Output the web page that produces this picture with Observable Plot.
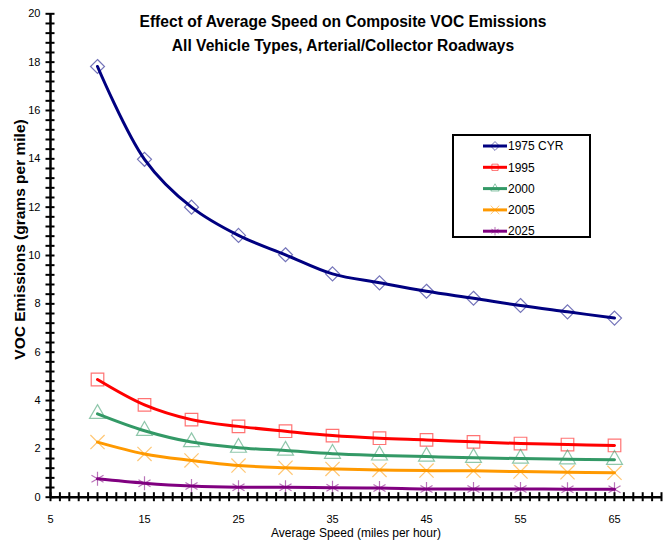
<!DOCTYPE html>
<html><head><meta charset="utf-8">
<script src="https://cdn.jsdelivr.net/npm/d3@7"></script>
<script src="https://cdn.jsdelivr.net/npm/@observablehq/plot@0.6"></script>
<style>body{margin:0;background:#fff;} #chart{width:668px;height:544px;}</style>
</head><body><div id="chart"></div>
<script>
const speeds = [10, 15, 20, 25, 30, 35, 40, 45, 50, 55, 60, 65];
const seriesNames = ["1975 CYR", "1995", "2000", "2005", "2025"];
const v1975 = [17.82, 13.98, 12.0, 10.83, 10.03, 9.24, 8.87, 8.52, 8.23, 7.93, 7.67, 7.41];
const v1995 = [4.87, 3.82, 3.21, 2.93, 2.73, 2.55, 2.44, 2.37, 2.29, 2.22, 2.18, 2.14];
const v2000 = [3.45, 2.75, 2.28, 2.05, 1.93, 1.80, 1.73, 1.68, 1.63, 1.60, 1.57, 1.55];
const v2005 = [2.28, 1.79, 1.52, 1.31, 1.22, 1.17, 1.13, 1.10, 1.09, 1.06, 1.03, 1.01];
const v2025 = [0.76, 0.58, 0.46, 0.41, 0.41, 0.39, 0.38, 0.34, 0.34, 0.34, 0.33, 0.33];
const colors = ["#000080", "#ff0000", "#339966", "#ff9900", "#800080"];
const symbols = ["diamond2", "square2", "triangle2", "times", "asterisk"];
const symbolR = [6.3, 8.0, 7.6, 6.5, 6.6];
const yTickLabels = [0, 2, 4, 6, 8, 10, 12, 14, 16, 18, 20];
const xTickLabels = [5, 15, 25, 35, 45, 55, 65];
const titleLines = ["Effect of Average Speed on Composite VOC Emissions", "All Vehicle Types, Arterial/Collector Roadways"];
const xTitle = "Average Speed (miles per hour)";
const yTitle = "VOC Emissions (grams per mile)";

const valueLists = [v1975, v1995, v2000, v2005, v2025];
const data = seriesNames.flatMap((s, i) => speeds.map((sp, j) => ({series: s, speed: sp, value: valueLists[i][j]})));
const yMinor = d3.range(0, 20.001, 0.4);
const xMinor = d3.range(5, 70.001, 1);
const FONT = "'Liberation Sans', Arial, sans-serif";

const plot = Plot.plot({
  width: 668, height: 544,
  marginLeft: 50, marginRight: 7, marginTop: 13.3, marginBottom: 47.3,
  style: {fontFamily: FONT, background: "#fff", color: "#000"},
  x: {domain: [5, 70], axis: null},
  y: {domain: [0, 20], axis: null},
  color: {domain: seriesNames, range: colors},
  marks: [
    ...seriesNames.map((s, i) => Plot.dot(data.filter(d => d.series === s), {
      x: "speed", y: "value", symbol: () => symbols[i], r: symbolR[i],
      stroke: colors[i], strokeOpacity: 0.55, strokeWidth: 1.2, fill: "none"
    })),
    Plot.line(data, {x: "speed", y: "value", z: "series", stroke: "series", strokeWidth: 3, curve: "catmull-rom"}),
    Plot.ruleX([5], {stroke: "#000", strokeWidth: 2.5}),
    Plot.ruleY([0], {stroke: "#000", strokeWidth: 2.5}),
    Plot.ruleY(yMinor, {y: d => d, x1: 5, x2: 5, insetLeft: -4.5, insetRight: -4.5, stroke: "#000", strokeWidth: 2}),
    Plot.ruleX(xMinor, {x: d => d, y1: 0, y2: 0, insetTop: -4.5, insetBottom: -4.5, stroke: "#000", strokeWidth: 2}),
    Plot.axisY({ticks: yTickLabels, tickSize: 0, tickPadding: 10, fontSize: 11, label: null}),
    Plot.axisX({ticks: xTickLabels, tickSize: 0, tickPadding: 18, fontSize: 11, label: null}),
    Plot.text([yTitle], {frameAnchor: "left", textAnchor: "middle", lineAnchor: "middle", rotate: -90, dx: -30, dy: -16, fontSize: 15.5, fontWeight: "bold", fill: "#000"}),
    Plot.text([xTitle], {frameAnchor: "bottom", lineAnchor: "middle", dy: 36, fontSize: 12, fill: "#000"}),
    Plot.text([titleLines[0]], {frameAnchor: "top", lineAnchor: "middle", dx: -13, dy: 7.7, fontSize: 15.6, fontWeight: "bold", fill: "#000"}),
    Plot.text([titleLines[1]], {frameAnchor: "top", lineAnchor: "middle", dx: -13, dy: 31.7, fontSize: 15.6, fontWeight: "bold", fill: "#000"})
  ]
});
document.getElementById("chart").appendChild(plot);

// Legend
const svg = d3.select(plot);
const lg = svg.append("g").attr("font-family", FONT).attr("text-anchor", "start");
lg.append("rect").attr("x", 453).attr("y", 135).attr("width", 137).attr("height", 102)
  .attr("fill", "#fff").attr("stroke", "#000").attr("stroke-width", 2);
const symMap = {diamond2: d3.symbolDiamond2, square2: d3.symbolSquare2, triangle2: d3.symbolTriangle2, times: d3.symbolTimes, asterisk: d3.symbolAsterisk};
seriesNames.forEach((s, i) => {
  const y = 146 + i * 21.3;
  lg.append("path").attr("d", d3.symbol(symMap[symbols[i]], 50)()).attr("transform", `translate(495,${y})`)
    .attr("fill", "none").attr("stroke", colors[i]).attr("stroke-opacity", 0.55);
  lg.append("line").attr("x1", 483).attr("x2", 507).attr("y1", y).attr("y2", y)
    .attr("stroke", colors[i]).attr("stroke-width", 3);
  lg.append("text").attr("x", 508).attr("y", y).attr("dy", "0.35em").attr("font-size", 12).attr("fill", "#000").text(s);
});
</script>
</body></html>
